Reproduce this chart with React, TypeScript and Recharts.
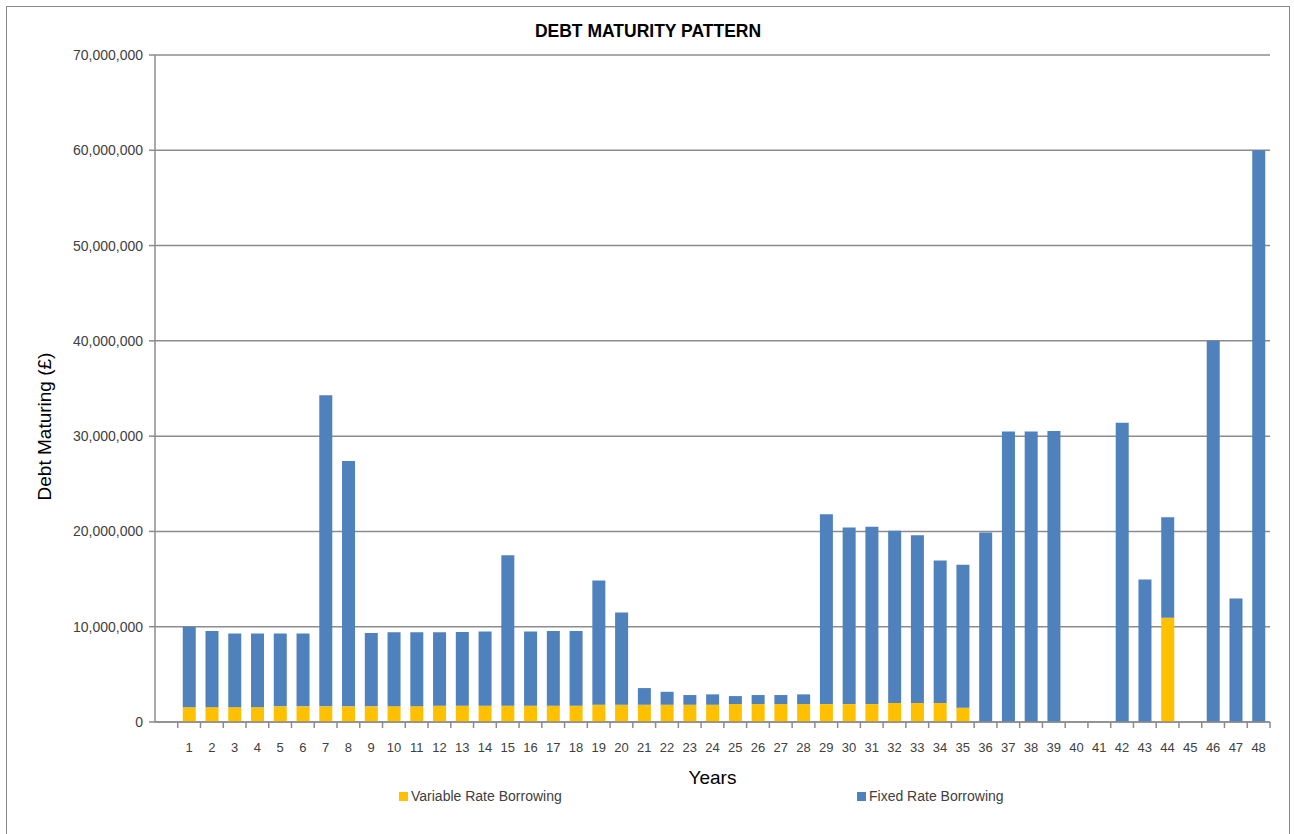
import { Bar, BarChart, CartesianGrid, Legend, XAxis, YAxis } from "recharts";

const years = [
  "", "1", "2", "3", "4", "5", "6", "7", "8", "9", "10", "11", "12", "13", "14", "15", "16",
  "17", "18", "19", "20", "21", "22", "23", "24", "25", "26", "27", "28", "29", "30", "31", "32",
  "33", "34", "35", "36", "37", "38", "39", "40", "41", "42", "43", "44", "45", "46", "47", "48",
];

const variableRate = [
  0, 1550000, 1550000, 1550000, 1550000, 1640000, 1640000, 1640000, 1640000, 1640000, 1660000,
  1660000, 1710000, 1710000, 1710000, 1710000, 1710000, 1710000, 1710000, 1810000, 1810000,
  1810000, 1810000, 1810000, 1810000, 1880000, 1880000, 1880000, 1880000, 1880000, 1880000,
  1880000, 1990000, 1990000, 1990000, 1500000, 0, 0, 0, 0, 0, 0, 0, 0, 10950000, 0, 0, 0, 0,
];

const fixedRate = [
  0, 8450000, 8000000, 7730000, 7730000, 7640000, 7640000, 32660000, 25760000, 7710000, 7760000,
  7760000, 7710000, 7740000, 7780000, 15790000, 7780000, 7840000, 7840000, 13050000, 9690000,
  1750000, 1360000, 1020000, 1090000, 840000, 950000, 950000, 1020000, 19920000, 18520000,
  18620000, 18070000, 17610000, 14960000, 15000000, 19900000, 30500000, 30500000, 30550000, 0, 0,
  31400000, 14960000, 10550000, 0, 40000000, 12970000, 60000000,
];

const yTicks = [0, 10000000, 20000000, 30000000, 40000000, 50000000, 60000000, 70000000];

const data = years.map((year, i) => ({
  year,
  variable: variableRate[i] || null,
  fixed: fixedRate[i] || null,
}));

const GRID = "#8c8c8c";
const TEXT = "#404040";
const FONT = "'Liberation Sans', Arial, sans-serif";

const CHART_W = 1284;
const CHART_H = 830;
const MARGIN = { top: 48, right: 19, bottom: 23, left: 0 };
const Y_AXIS_W = 148;
const BAND = (CHART_W - MARGIN.right - MARGIN.left - Y_AXIS_W) / years.length;

function YearTick(props: any) {
  const { x, y, payload, index } = props;
  const axisY = y - 8;
  const left = x - BAND / 2;
  return (
    <g>
      {index > 0 && <line x1={left} x2={left} y1={axisY} y2={axisY + 6} stroke={GRID} strokeWidth={1.5} />}
      {index === years.length - 1 && (
        <line x1={x + BAND / 2} x2={x + BAND / 2} y1={axisY} y2={axisY + 6} stroke={GRID} strokeWidth={1.5} />
      )}
      <text x={x} y={axisY + 30} textAnchor="middle" fill={TEXT} fontSize={13} fontFamily={FONT}>
        {payload.value}
      </text>
    </g>
  );
}

// Excel centres the axis title a bit below the plot middle
function YTitle(props: any) {
  const { viewBox } = props;
  const cx = 37;
  const cy = viewBox.y + viewBox.height / 2 + 38;
  return (
    <text
      x={cx}
      y={cy}
      transform={`rotate(-90, ${cx}, ${cy})`}
      textAnchor="middle"
      dominantBaseline="central"
      fill="#000"
      fontSize={19}
      fontFamily={FONT}
    >
      Debt Maturing (£)
    </text>
  );
}

function LegendContent() {
  const item = (left: number, color: string, label: string) => (
    <div style={{ position: "absolute", left, top: 6, display: "flex", alignItems: "center" }}>
      <span style={{ width: 9, height: 9, background: color, marginRight: 3 }} />
      <span style={{ fontFamily: FONT, fontSize: 14, color: TEXT }}>{label}</span>
    </div>
  );
  return (
    <div style={{ position: "relative", height: 30 }}>
      {item(392, "#FFC000", "Variable Rate Borrowing")}
      {item(850, "#4F81BD", "Fixed Rate Borrowing")}
    </div>
  );
}

export default function App() {
  return (
    <div
      style={{
        position: "absolute",
        left: 6,
        top: 6,
        width: CHART_W,
        height: CHART_H,
        border: "1px solid #898989",
        boxSizing: "border-box",
        background: "#fff",
      }}
    >
      <div
        style={{
          position: "absolute",
          top: 14,
          left: 0,
          width: CHART_W - 2,
          textAlign: "center",
          fontFamily: FONT,
          fontWeight: "bold",
          fontSize: 17.5,
          color: "#000",
        }}
      >
        DEBT MATURITY PATTERN
      </div>
      <BarChart
        width={CHART_W - 2}
        height={CHART_H - 2}
        data={data}
        margin={MARGIN}
        barSize={13}
        style={{ position: "absolute", left: 0, top: 0 }}
      >
        <CartesianGrid stroke={GRID} strokeWidth={1.5} vertical={false} />
        <XAxis
          dataKey="year"
          interval={0}
          height={60}
          tick={<YearTick />}
          tickLine={false}
          axisLine={{ stroke: GRID, strokeWidth: 1.5 }}
          label={{
            value: "Years",
            position: "insideBottom",
            offset: -2,
            fill: "#000",
            fontSize: 19,
            fontFamily: FONT,
          }}
        />
        <YAxis
          width={Y_AXIS_W}
          domain={[0, 70000000]}
          ticks={yTicks}
          interval={0}
          tickFormatter={(v: number) => v.toLocaleString("en-US")}
          tick={{ fill: TEXT, fontSize: 14, fontFamily: FONT }}
          tickLine={{ stroke: GRID, strokeWidth: 1.5 }}
          tickSize={6}
          tickMargin={6}
          axisLine={{ stroke: GRID, strokeWidth: 1.5 }}
          label={{ content: <YTitle /> }}
        />
        <Legend verticalAlign="bottom" height={30} content={<LegendContent />} />
        <Bar dataKey="variable" name="Variable Rate Borrowing" stackId="debt" fill="#FFC000" isAnimationActive={false} />
        <Bar dataKey="fixed" name="Fixed Rate Borrowing" stackId="debt" fill="#4F81BD" isAnimationActive={false} />
      </BarChart>
    </div>
  );
}
